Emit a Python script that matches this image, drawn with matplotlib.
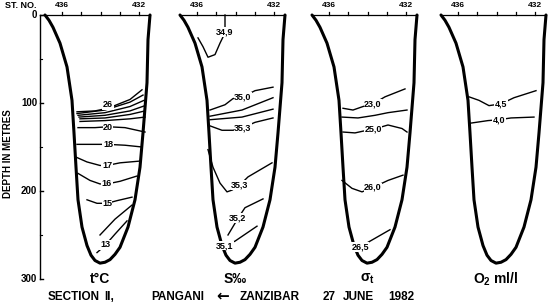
import matplotlib.pyplot as plt

# bottom profile of the section (distance along section, depth m), same for each panel
bottom_x = [0, 4, 8, 15, 22, 27, 29, 31, 33, 37, 42, 46, 50, 55, 60, 65, 70, 75, 83, 90, 95, 98, 102, 103, 105]
bottom_d = [0, 6, 14, 32, 59, 97, 134, 173, 210, 241, 262, 273, 279, 282, 281, 278, 272, 264, 241, 210, 173, 134, 77, 28, 0]

stations = ["436", "432"]
station_x = [17, 94]
tick_x = [17, 36, 55.5, 75, 94]

depth_ticks = [0, 100, 200, 300]
depth_minor = [50, 150, 250]

# isolines: (label, x, depth, label position)
temp_lines = [
    ("26", [32, 50, 63, 85, 97], [110, 109, 106, 96, 85], (63, 102)),
    ("", [32, 60, 85, 98], [112, 108, 99, 91], None),
    ("", [33, 60, 85, 99], [114, 111, 104, 97], None),
    ("", [34, 60, 85, 100], [116, 114, 109, 103], None),
    ("", [35, 60, 85, 100], [118, 117, 113, 109], None),
    ("", [35, 60, 85, 100], [121, 120, 118, 116], None),
    ("20", [33, 50, 63, 80, 100], [128, 128, 127, 128, 133], (63, 128)),
    ("18", [32, 50, 63, 80, 97], [147, 147, 147, 148, 150], (63, 147)),
    ("17", [30, 42, 55, 62, 75, 95], [161, 167, 171, 171, 168, 166], (62, 171)),
    ("16", [33, 45, 55, 62, 75, 92], [180, 188, 192, 192, 189, 183], (62, 192)),
    ("15", [42, 52, 62, 72, 87], [210, 214, 214, 211, 207], (62, 214)),
    ("", [55, 70, 87], [250, 232, 216], None),
    ("13", [52, 60, 70, 82], [270, 262, 249, 234], (60, 261)),
]

salt_lines = [
    ("34,9", [18, 23, 28, 35, 40, 43, 45, 45], [26, 36, 48, 45, 32, 25, 19, 0], (45, 19)),
    ("35,0", [30, 45, 53, 63, 75, 93], [108, 102, 95, 93, 86, 82], (63, 93)),
    ("", [30, 62, 93], [115, 108, 94], None),
    ("", [30, 62, 93], [119, 116, 107], None),
    ("35,3", [30, 42, 53, 63, 75, 93], [126, 131, 131, 128, 122, 117], (63, 128)),
    ("35,3", [28, 33, 40, 47, 52, 60, 68, 92], [153, 173, 191, 201, 199, 193, 184, 168], (60, 193)),
    ("35,2", [48, 58, 65, 83], [250, 231, 219, 209], (58, 231)),
    ("35,1", [45, 55, 77], [262, 257, 240], (45, 262)),
]

sigma_lines = [
    ("23,0", [31, 41, 51, 61, 73, 93], [106, 108, 104, 101, 93, 84], (61, 101)),
    ("", [30, 46, 63, 76, 95], [116, 117, 114, 111, 108], None),
    ("25,0", [31, 43, 51, 61, 76, 90, 95], [133, 134, 132, 130, 125, 129, 133], (61, 130)),
    ("26,0", [30, 40, 50, 61, 76, 91], [188, 197, 201, 196, 188, 182], (61, 196)),
    ("26,5", [48, 55, 78], [264, 259, 244], (48, 264)),
]

oxy_lines = [
    ("4,5", [28, 38, 48, 60, 73, 95], [93, 97, 103, 101, 94, 86], (60, 101)),
    ("4,0", [29, 47, 58, 70, 93], [123, 120, 119, 117, 116], (58, 119)),
]

panel_names = ["t°C", "S‰", r"σ$_\mathregular{t}$", r"O$_\mathregular{2}$ ml/l"]
panel_lines = [temp_lines, salt_lines, sigma_lines, oxy_lines]
panel_x0 = [45, 180, 312, 441]

title_words = ["SECTION", "II,", "PANGANI", "ZANZIBAR", "27", "JUNE", "1982"]
title_x = [74, 109, 178, 270, 329, 358, 401]

font = dict(family=["Liberation Sans", "DejaVu Sans"], fontweight="bold")

fig = plt.figure(figsize=(5.5, 3.03), dpi=100)
ax = fig.add_axes([0, 0, 1, 1])
ax.set_xlim(0, 550)
ax.set_ylim(327.3, -17.05)
ax.axis("off")

# depth axis
ax.plot([40, 40], [0, 300], color="black", lw=1.0)
for d in depth_ticks:
    ax.plot([40, 43], [d, d], color="black", lw=1.0)
    ax.text(37, d, str(d), ha="right", va="center", fontsize=7, **font)
for d in depth_minor:
    ax.plot([40, 42], [d, d], color="black", lw=0.8)
ax.text(8, 157, "DEPTH IN METRES", rotation=90, ha="center", va="center", fontsize=7, **font)
ax.text(21, -11, "ST. NO.", ha="center", va="center", fontsize=6.5, **font)

for i, (x0, lines, name) in enumerate(zip(panel_x0, panel_lines, panel_names)):
    left = 40 if i == 0 else x0
    ax.plot([left, x0 + 105], [0, 0], color="black", lw=0.9)
    for tx in tick_x:
        ax.plot([x0 + tx, x0 + tx], [0, -3.5], color="black", lw=0.9)
    for s, sx in zip(stations, station_x):
        ax.text(x0 + sx, -11, s, ha="center", va="center", fontsize=6, **font)
    ax.plot([x0 + b for b in bottom_x], bottom_d, color="black", lw=2.2,
            solid_capstyle="round", solid_joinstyle="round")
    for lab, xs, ds, pos in lines:
        ax.plot([x0 + v for v in xs], ds, color="black", lw=1.0)
        if pos:
            ax.text(x0 + pos[0], pos[1], lab, ha="center", va="center", fontsize=6.5,
                    bbox=dict(facecolor="white", edgecolor="none", pad=0.3), **font)
    ax.text(x0 + 55, 300, name, ha="center", va="center", fontsize=10, **font)

for w, wx in zip(title_words, title_x):
    ax.text(wx, 320, w, ha="center", va="center", fontsize=8.5, **font)
ax.text(223, 319, "\u2190", ha="center", va="center", fontsize=11,
        family="DejaVu Sans", fontweight="bold")

fig.savefig("out.png", dpi=100)
